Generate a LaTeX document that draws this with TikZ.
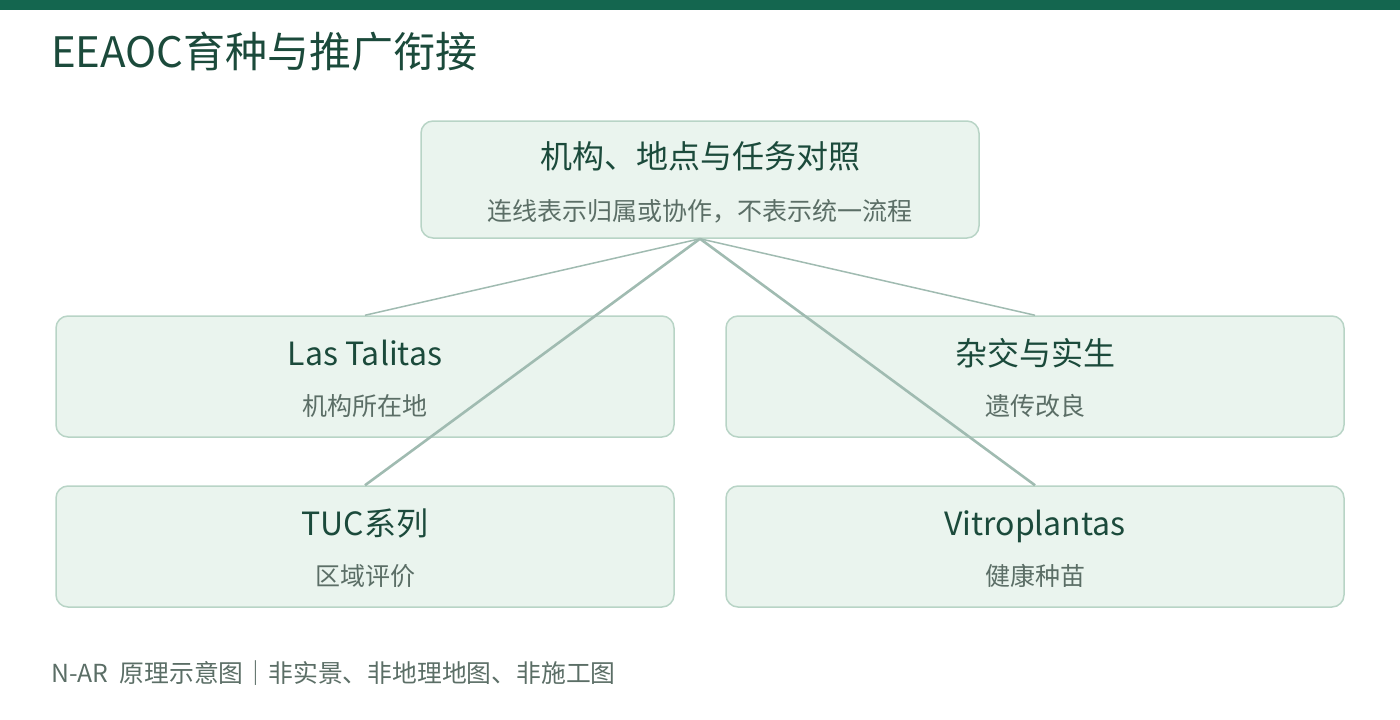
\documentclass[tikz,border=0pt]{standalone}
\usepackage{fontspec}
\setmainfont{Noto Sans CJK SC}
\definecolor{barGreen}{HTML}{14664F}
\definecolor{titleGreen}{HTML}{1B4A3B}
\definecolor{boxFill}{HTML}{EAF4EE}
\definecolor{boxLine}{HTML}{B8D4C6}
\definecolor{subGray}{HTML}{5B6E66}
\definecolor{linkGray}{HTML}{A0BBB1}

\begin{document}
\begin{tikzpicture}
[x=1pt, y=-1pt,
 boxDecorate/.style={draw=boxLine, line width=1.5pt, fill=boxFill, rounded corners=12pt, inner sep=0pt},
 headText/.style={anchor=base, text=titleGreen, font=\fontsize{32}{38}\selectfont, inner sep=0pt},
 subText/.style={anchor=base, text=subGray, font=\fontsize{25}{30}\selectfont, inner sep=0pt},
 linkThin/.style={draw=linkGray, line width=1.5pt},
 linkThick/.style={draw=linkGray, line width=2.6pt}]

 \useasboundingbox (0,0) rectangle (1400,720);
 \fill[barGreen] (0,0) rectangle (1400,10);
 \node (title) [anchor=base west, inner sep=0pt, text=titleGreen, font=\fontsize{42}{50}\selectfont] at (51,67) {EEAOC育种与推广衔接};

 % top box
 \node (top) [boxDecorate, minimum width=558pt, minimum height=117pt] at (700,179.5) {};
 \node (topT) [headText] at (700,168) {机构、地点与任务对照};
 \node (topS) [subText] at (700,220) {连线表示归属或协作，不表示统一流程};

 % four boxes
 \foreach \nodename/\x/\y/\head/\sub in {
 las/365/376.5/Las Talitas/机构所在地,
 cross/1035/376.5/杂交与实生/遗传改良,
 tuc/365/546.5/TUC系列/区域评价,
 vitro/1035/546.5/Vitroplantas/健康种苗
 }
 {
   \node (B\nodename) [boxDecorate, minimum width=618pt, minimum height=121pt] at (\x,\y) {};
   \node (B\nodename T) [headText] at (\x,\y-11.5) {\head};
   \node (B\nodename S) [subText] at (\x,\y+38.5) {\sub};
 }

 \path
 (top.south) edge[linkThin] (Blas.north)
 (top.south) edge[linkThin] (Bcross.north)
 (top.south) edge[linkThick] (Btuc.north)
 (top.south) edge[linkThick] (Bvitro.north);

 \node (note) [anchor=base west, inner sep=0pt, text=subGray, font=\fontsize{24.8}{30}\selectfont] at (51,682) {N-AR\hspace{0.45em}原理示意图｜非实景、非地理地图、非施工图};
\end{tikzpicture}
\end{document}
